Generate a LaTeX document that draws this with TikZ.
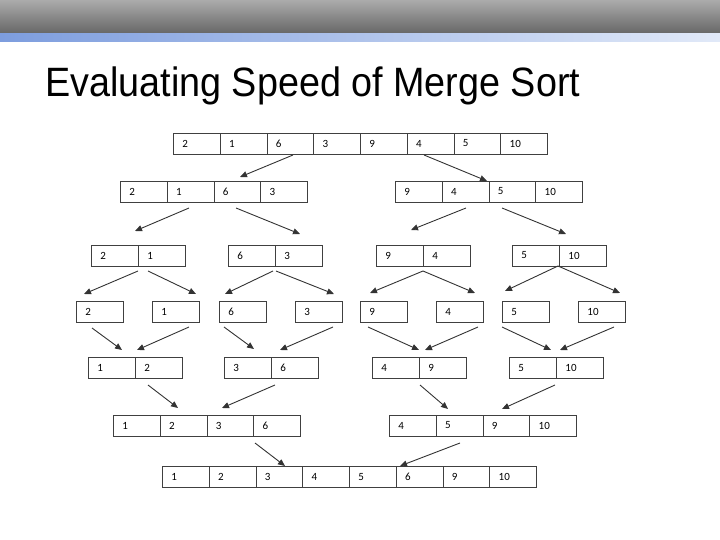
\documentclass[tikz,border=0pt]{standalone}
\usepackage{fontspec}
\setmainfont{Liberation Sans}
\newfontfamily\cellfont{Carlito}
\usetikzlibrary{arrows.meta}
\tikzset{
  cell/.style={draw=black!75, line width=0.9pt, anchor=west, minimum height=21pt, minimum width=#1,
    text width=#1-18pt, inner xsep=9pt, inner ysep=0pt, align=left, font=\cellfont\fontsize{11}{12}\selectfont},
  arr/.style={-{Triangle[length=7pt,width=6pt]}, line width=0.9pt, black!80}
}
\begin{document}
\begin{tikzpicture}[x=1pt,y=-1pt]
\useasboundingbox (0,0) rectangle (720,540);
\shade[top color=black!33, bottom color=black!60] (0,0) rectangle (720,34);
\shade[left color={rgb,255:red,125;green,157;blue,222}, right color={rgb,255:red,225;green,233;blue,248}] (0,34) rectangle (720,42);
\node[anchor=base west, inner sep=0pt] (title) at (45,97) {\resizebox{535pt}{\height}{\fontsize{41}{44}\selectfont Evaluating Speed of Merge Sort}};
% rows
\foreach \v [count=\i from 0] in {2,1,6,3,9,4,5,10} \node[cell=46.75pt] (a\i) at ({173+46.75*\i},143.5) {\v};
\foreach \v [count=\i from 0] in {2,1,6,3} \node[cell=46.75pt] (bl\i) at ({120+46.75*\i},191.5) {\v};
\foreach \v [count=\i from 0] in {9,4,5,10} \node[cell=46.75pt] (br\i) at ({395+46.75*\i},191.5) {\v};
\foreach \x/\p/\q/\n in {91/2/1/c1,228/6/3/c2,376/9/4/c3,512/5/10/c4}{
  \node[cell=47pt] (\n a) at (\x,255.5) {\p};
  \node[cell=47pt] (\n b) at (\x+47,255.5) {\q};}
\foreach \x/\v [count=\i] in {76/2,152/1,219/6,295/3,360/9,436/4,502/5,578/10}
  \node[cell=47pt] (d\i) at (\x,312) {\v};
\foreach \x/\p/\q/\n in {88/1/2/e1,224/3/6/e2,372/4/9/e3,509/5/10/e4}{
  \node[cell=47pt] (\n a) at (\x,368) {\p};
  \node[cell=47pt] (\n b) at (\x+47,368) {\q};}
\foreach \v [count=\i from 0] in {1,2,3,6} \node[cell=46.75pt] (fl\i) at ({113+46.75*\i},425.5) {\v};
\foreach \v [count=\i from 0] in {4,5,9,10} \node[cell=46.75pt] (fr\i) at ({389+46.75*\i},425.5) {\v};
\foreach \v [count=\i from 0] in {1,2,3,4,5,6,9,10} \node[cell=46.75pt] (g\i) at ({162+46.75*\i},477) {\v};
% arrows
\foreach \a/\b/\c/\d in {
 293/155/240/177, 424/155/487/181,
 189/208/135/231, 236/208/300/234, 466/208/411/230, 502/208/566/234,
 138/271/84/294, 148/271/196/294, 273/271/225/294, 276/271/334/294,
 423/271/370/293, 423/271/475/293, 558/266/505/291, 558/266/620/293,
 92/328/122/350, 189/327/137/350, 224/327/254/349, 333/327/280/350,
 368/327/419/350, 478/327/425/350, 502/327/551/350, 614/327/560/350,
 148/385/178/408, 275/385/222/408, 420/385/448/409, 555/385/502/409,
 255/443/285/466, 460/443/400/466}
 \draw[arr] (\a,\b) -- (\c,\d);
\end{tikzpicture}
\end{document}
